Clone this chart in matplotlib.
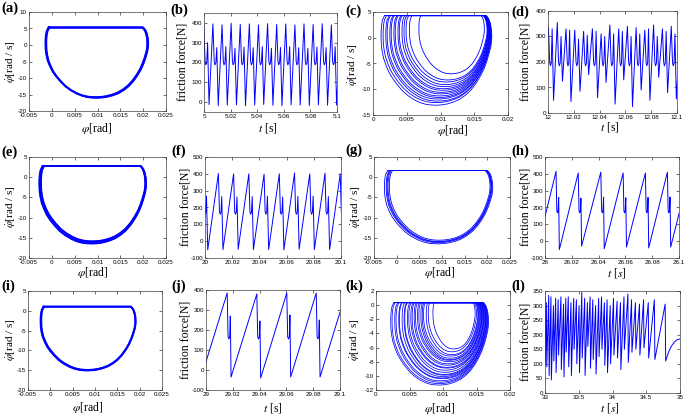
import matplotlib
matplotlib.use('Agg')
import matplotlib.pyplot as plt
import numpy as np

plt.rcParams['font.family'] = 'Liberation Serif'
plt.rcParams['mathtext.fontset'] = 'stix'

W, H = 685, 415
BLUE = '#0000ff'

# ---- phase portraits: one loop = (left, right, bottom), top line shared ----
# normalised loop outline: u across, v down from the top line
LOOP_U = [0.031, 0.012, 0.004, 0.000, 0.000, 0.002, 0.009, 0.022, 0.045, 0.070,
          0.103, 0.145, 0.193, 0.245, 0.305, 0.355, 0.408, 0.455, 0.498, 0.548,
          0.596, 0.655, 0.709, 0.762, 0.812, 0.857, 0.897, 0.930, 0.955, 0.975,
          0.991, 0.998, 1.000, 0.997, 0.987, 0.972, 0.951, 0.031]
LOOP_V = [0.000, 0.050, 0.108, 0.180, 0.250, 0.320, 0.392, 0.475, 0.557, 0.630,
          0.698, 0.770, 0.840, 0.895, 0.943, 0.972, 0.991, 0.998, 1.000, 0.996,
          0.986, 0.964, 0.934, 0.888, 0.830, 0.757, 0.675, 0.592, 0.509, 0.425,
          0.344, 0.285, 0.226, 0.155, 0.085, 0.035, 0.000, 0.000]

a_top = 5.3
a_left = [-0.0013, -0.0012, -0.0014]
a_right = [0.0210, 0.0211, 0.0209]
a_bot = [-15.9, -16.0, -15.8]

c_top = 4.3
c_left = [0.0012, 0.0015, 0.0019, 0.0021, 0.0025, 0.0027, 0.0031, 0.0033,
          0.0037, 0.0039, 0.0043, 0.0046, 0.0049, 0.0054, 0.0068]
c_right = [0.0176, 0.0175, 0.0175, 0.0174, 0.0174, 0.0173, 0.0173, 0.0172,
           0.0172, 0.0171, 0.0171, 0.0170, 0.0170, 0.0169, 0.0165]
c_bot = [-13.1, -12.6, -12.3, -11.9, -11.6, -11.3, -10.9, -10.6,
         -10.2, -9.9, -9.5, -9.1, -8.6, -8.2, -7.0]

e_top = 2.8
e_left = [-0.0028, -0.0026, -0.0024, -0.0023, -0.0027, -0.0025]
e_right = [0.0206, 0.0205, 0.0206, 0.0204, 0.0207, 0.0205]
e_bot = [-16.5, -16.2, -16.0, -15.8, -16.4, -15.9]

g_top = 1.65
g_left = [-0.0027, -0.0023, -0.0019, -0.0016, -0.0021]
g_right = [0.0212, 0.0210, 0.0208, 0.0206, 0.0209]
g_bot = [-16.5, -16.2, -15.9, -15.6, -16.0]

i_top = 1.05
i_left = [-0.0021, -0.0020, -0.0022]
i_right = [0.0191, 0.0190, 0.0191]
i_bot = [-15.0, -14.9, -15.1]

k_top = 0.35
k_left = [0.0022, 0.0024, 0.0028, 0.0030, 0.0034, 0.0035, 0.0039, 0.0042,
          0.0043, 0.0047, 0.0049, 0.0052, 0.0054, 0.0057, 0.0059, 0.0062,
          0.0064, 0.0067, 0.0069, 0.0071, 0.0075, 0.0078, 0.0085]
k_right = [0.0168, 0.0167, 0.0166, 0.0165, 0.0166, 0.0164, 0.0163, 0.0164,
           0.0162, 0.0161, 0.0160, 0.0161, 0.0159, 0.0158, 0.0157, 0.0158,
           0.0156, 0.0155, 0.0154, 0.0153, 0.0152, 0.0150, 0.0148]
k_bot = [-11.3, -11.1, -10.9, -10.7, -10.4, -10.3, -10.1, -9.9, -9.8, -9.5,
         -9.2, -8.9, -8.8, -8.5, -8.3, -8.0, -7.8, -7.7, -7.5, -7.2, -7.0,
         -6.6, -6.2]

# ---- friction force time series: trough times + per-cycle levels ----
b_t0 = [4.9970, 5.0038, 5.0107, 5.0175, 5.0244, 5.0312, 5.0381, 5.0449, 5.0518,
        5.0586, 5.0655, 5.0723, 5.0792, 5.0860, 5.0929, 5.0997, 5.1066]
b_low = [-15, -12, -18, -15, -14, -18, -15, -12, -16, -18, -14, -15, -17, -14, -16, -15, -15]
b_high = [392, 395, 390, 398, 392, 395, 390, 396, 392, 395, 390, 395, 392, 396, 390, 394]
b_spike = [300, 275, 280, 272, 278, 275, 280, 272, 276, 280, 275, 272, 278, 275, 280, 275]
b_phase = [0, 0.42, 0.56, 0.64, 0.74, 0.84]
b_level = ['low', 'high', 205, 188, 198, 'spike']

d_t0 = [11.9975, 12.0043, 12.0112, 12.0178, 12.0248, 12.0315, 12.0384, 12.0450, 12.0520,
        12.0587, 12.0655, 12.0722, 12.0790, 12.0858, 12.0927, 12.0995, 12.1063]
d_low = [110, 50, 125, 45, 85, 150, 60, 120, 35, 130, 25, 90, 50, 140, 80, 55, 120]
d_high = [335, 355, 330, 325, 320, 330, 310, 345, 330, 340, 335, 325, 345, 330, 340, 325]
d_spike = [330, 300, 325, 290, 305, 320, 300, 310, 320, 300, 310, 330, 300, 320, 310, 300]
d_level = ['low', 'high', 200, 185, 195, 'spike']

f_t0 = [19.9908, 20.0020, 20.0132, 20.0244, 20.0356, 20.0468, 20.0580, 20.0692,
        20.0804, 20.0916, 20.1028]
f_low = [-50, -52, -50, -48, -50, -50, -52, -48, -50, -50, -50]
f_high = [400, 402, 400, 400, 398, 400, 405, 400, 404, 400]
f_spike = [268, 265, 262, 265, 268, 262, 265, 268, 265, 262]
f_phase = [0, 0.70, 0.77, 0.82, 0.87, 0.92]
f_level = ['low', 'high', 175, 160, 170, 'spike']

h_t0 = [25.9943, 26.0107, 26.0273, 26.0442, 26.0608, 26.0774, 26.0938, 26.1102]
h_low = [-40, -50, -30, -45, -35, -40, -35, -40]
h_high = [415, 405, 410, 405, 405, 410, 410]
h_spike = [260, 255, 262, 258, 260, 262, 258]
h_phase = [0, 0.85, 0.885, 0.915, 0.945, 0.97]
h_level = ['low', 'high', 180, 168, 182, 'spike']

j_t0 = [28.9965, 29.0187, 29.0408, 29.0632, 29.0851, 29.1073]
j_low = [-35, -35, -40, -35, -35, -35]
j_high = [385, 380, 385, 385, 385]
j_spike = [270, 245, 275, 250, 270]
j_phase = [0, 0.87, 0.90, 0.93, 0.955, 0.975]
j_level = ['low', 'high', 165, 155, 168, 'spike']

l_pk_t = [33.000, 33.020, 33.055, 33.088, 33.125, 33.158, 33.195, 33.236, 33.275, 33.308,
          33.345, 33.385, 33.425, 33.465, 33.505, 33.545, 33.588, 33.628, 33.668, 33.708,
          33.750, 33.795, 33.838, 33.880, 33.920, 33.966, 34.015, 34.068, 34.118, 34.170,
          34.228, 34.282, 34.340, 34.400, 34.460, 34.530, 34.620, 34.780]
l_pk_f = [330, 310, 335, 330, 300, 325, 320, 330, 305, 325, 330, 310, 325, 320, 300, 345,
          325, 310, 330, 320, 300, 325, 330, 310, 320, 300, 325, 315, 310, 330, 340, 320,
          310, 305, 320, 310, 320, 305]
l_lo_t = [33.005, 33.026, 33.061, 33.094, 33.131, 33.164, 33.201, 33.242, 33.281, 33.314,
          33.351, 33.391, 33.431, 33.471, 33.511, 33.551, 33.594, 33.634, 33.674, 33.714,
          33.756, 33.801, 33.844, 33.886, 33.926, 33.972, 34.021, 34.074, 34.124, 34.176,
          34.234, 34.288, 34.346, 34.406, 34.466, 34.536, 34.628, 34.788]
l_lo_f = [100, 90, 60, 45, 110, 70, 130, 80, 55, 140, 90, 60, 150, 100, 70, 120, 60, 160,
          85, 115, 65, 125, 150, 95, 70, 100, 130, 120, 80, 150, 105, 140, 150, 130, 155,
          120, 115, 110]
l_tail_t = [34.83, 34.87, 34.91, 34.95, 35.0]
l_tail_f = [140, 160, 173, 182, 186]


def px(x, y):
    return x / W, 1 - y / H


def box(l, t, r, b):
    return [l / W, 1 - b / H, (r - l) / W, (b - t) / H]


def loop(xl, xr, top, bot):
    u = np.array(LOOP_U)
    v = np.array(LOOP_V)
    return xl + u * (xr - xl), top - v * (top - bot)


def cycles(t0, low, high, spike, phase, level):
    ts, fs = [], []
    for k in range(len(t0) - 1):
        T = t0[k + 1] - t0[k]
        for p, lv in zip(phase, level):
            ts.append(t0[k] + p * T)
            fs.append({'low': low[k], 'high': high[k], 'spike': spike[k]}.get(lv, lv))
    ts.append(t0[-1])
    fs.append(low[-1])
    return ts, fs


def style(ax, xlim, ylim, xt, yt):
    ax.set_xlim(xlim)
    ax.set_ylim(ylim)
    ax.set_xticks(xt)
    ax.set_yticks(yt)
    ax.set_xticklabels(['{:g}'.format(v) for v in xt], fontfamily='Liberation Sans', fontsize=4.5)
    ax.set_yticklabels(['{:g}'.format(v) for v in yt], fontfamily='Liberation Sans', fontsize=4.5)
    ax.tick_params(direction='in', length=2, width=0.4, top=True, right=True, pad=1.5)
    for s in ax.spines.values():
        s.set_linewidth(0.5)
        s.set_color('0.25')


fig = plt.figure(figsize=(W / 100, H / 100), dpi=100)

PHI_X = np.round(np.arange(-0.005, 0.0251, 0.005), 3)


def phase_panel(rect, top, lefts, rights, bots, lw, xlim, ylim, xt, yt):
    ax = fig.add_axes(box(*rect))
    for xl, xr, yb in zip(lefts, rights, bots):
        x, y = loop(xl, xr, top, yb)
        ax.plot(x, y, color=BLUE, lw=lw)
    style(ax, xlim, ylim, xt, yt)
    return ax


def time_panel(rect, t, f, xlim, ylim, xt, yt, lw=0.7):
    ax = fig.add_axes(box(*rect))
    ax.plot(t, f, color=BLUE, lw=lw)
    style(ax, xlim, ylim, xt, yt)
    return ax


# row 1
phase_panel((29, 12, 166, 111), a_top, a_left, a_right, a_bot, 1.3,
            (-0.005, 0.025), (-20, 10), PHI_X, [-20, -15, -10, -5, 0, 5, 10])
t, f = cycles(b_t0, b_low, b_high, b_spike, b_phase, b_level)
time_panel((204, 13, 337, 112), t, f, (5, 5.1), (-50, 450),
           [5, 5.02, 5.04, 5.06, 5.08, 5.1], [0, 100, 200, 300, 400])
phase_panel((373, 12, 508, 115), c_top, c_left, c_right, c_bot, 0.6,
            (0, 0.02), (-15, 5), [0, 0.005, 0.01, 0.015, 0.02], [-15, -10, -5, 0, 5])
t, f = cycles(d_t0, d_low, d_high, d_spike, b_phase, d_level)
time_panel((548, 11, 677, 113), t, f, (12, 12.1), (0, 400),
           [12, 12.02, 12.04, 12.06, 12.08, 12.1], [0, 100, 200, 300, 400])

# row 2
phase_panel((29, 157, 166, 258), e_top, e_left, e_right, e_bot, 0.9,
            (-0.005, 0.025), (-20, 5), PHI_X, [-20, -15, -10, -5, 0, 5])
t, f = cycles(f_t0, f_low, f_high, f_spike, f_phase, f_level)
time_panel((205, 157, 341, 258), t, f, (20, 20.1), (-100, 500),
           [20, 20.02, 20.04, 20.06, 20.08, 20.1], [-100, 0, 100, 200, 300, 400, 500])
phase_panel((374, 157, 510, 258), g_top, g_left, g_right, g_bot, 0.6,
            (-0.005, 0.025), (-20, 5), PHI_X, [-20, -15, -10, -5, 0, 5])
t, f = cycles(h_t0, h_low, h_high, h_spike, h_phase, h_level)
time_panel((545, 157, 679, 258), t, f, (26, 26.1), (-100, 500),
           [26, 26.02, 26.04, 26.06, 26.08, 26.1], [-100, 0, 100, 200, 300, 400, 500])

# row 3
phase_panel((28, 291, 162, 390), i_top, i_left, i_right, i_bot, 1.2,
            (-0.005, 0.025), (-20, 5), PHI_X, [-20, -15, -10, -5, 0, 5])
t, f = cycles(j_t0, j_low, j_high, j_spike, j_phase, j_level)
time_panel((206, 290, 340, 390), t, f, (29, 29.1), (-100, 400),
           [29, 29.02, 29.04, 29.06, 29.08, 29.1], [-100, 0, 100, 200, 300, 400])
phase_panel((376, 291, 510, 390), k_top, k_left, k_right, k_bot, 0.55,
            (0, 0.02), (-12, 2), [0, 0.005, 0.01, 0.015, 0.02], [-12, -10, -8, -6, -4, -2, 0, 2])
lt, lf = [], []
for pt, pf, qt, qf in zip(l_pk_t, l_pk_f, l_lo_t, l_lo_f):
    lt += [pt, qt]
    lf += [pf, qf]
time_panel((545, 291, 680, 393), lt + l_tail_t, lf + l_tail_f, (33, 35), (0, 350),
           [33, 33.5, 34, 34.5, 35], [0, 50, 100, 150, 200, 250, 300, 350])

# axis labels (figure-pixel placement)
PHI = r'$\varphi$[rad]'
PHID = r'$\dot{\varphi}$[rad / s]'
FF = 'friction force[N]'
xlabs = [(97, 128, PHI), (268, 128, r'$t$ [s]'), (453, 131, PHI), (610, 127, r'$t$ [s]'),
         (93, 273, PHI), (440, 273, PHI), (617, 273, r'$t$ [$s$]'),
         (88, 407, PHI), (273, 408, r'$t$ [s]'), (440, 408, PHI), (610, 408, r'$t$ [$s$]')]
for x, y, s in xlabs:
    fig.text(*px(x, y), s, ha='center', va='center', fontsize=8.5)

ylabs = [(11, 62, PHID, 8), (183, 62, FF, 8.5), (353, 65, PHID, 8), (525, 62, FF, 8.5),
         (11, 207, PHID, 8), (185, 207, FF, 8.5), (356, 207, PHID, 8), (525, 207, FF, 8.5),
         (11, 340, PHID, 8), (185, 340, FF, 8.5), (355, 340, PHID, 8), (525, 342, FF, 8.5)]
for x, y, s, fs in ylabs:
    fig.text(*px(x, y), s, ha='center', va='center', rotation=90, fontsize=fs)

letters = [(1, 8, '(a)'), (170, 10, '(b)'), (345, 11, '(c)'), (511, 12, '(d)'),
           (1, 152, '(e)'), (171, 151, '(f)'), (345, 150, '(g)'), (511, 151, '(h)'),
           (1, 286, '(i)'), (171, 286, '(j)'), (345, 286, '(k)'), (511, 286, '(l)')]
for x, y, s in letters:
    fig.text(*px(x, y), s, ha='left', va='center', fontsize=10.5, fontweight='bold')

fig.savefig('out.png', dpi=100)
